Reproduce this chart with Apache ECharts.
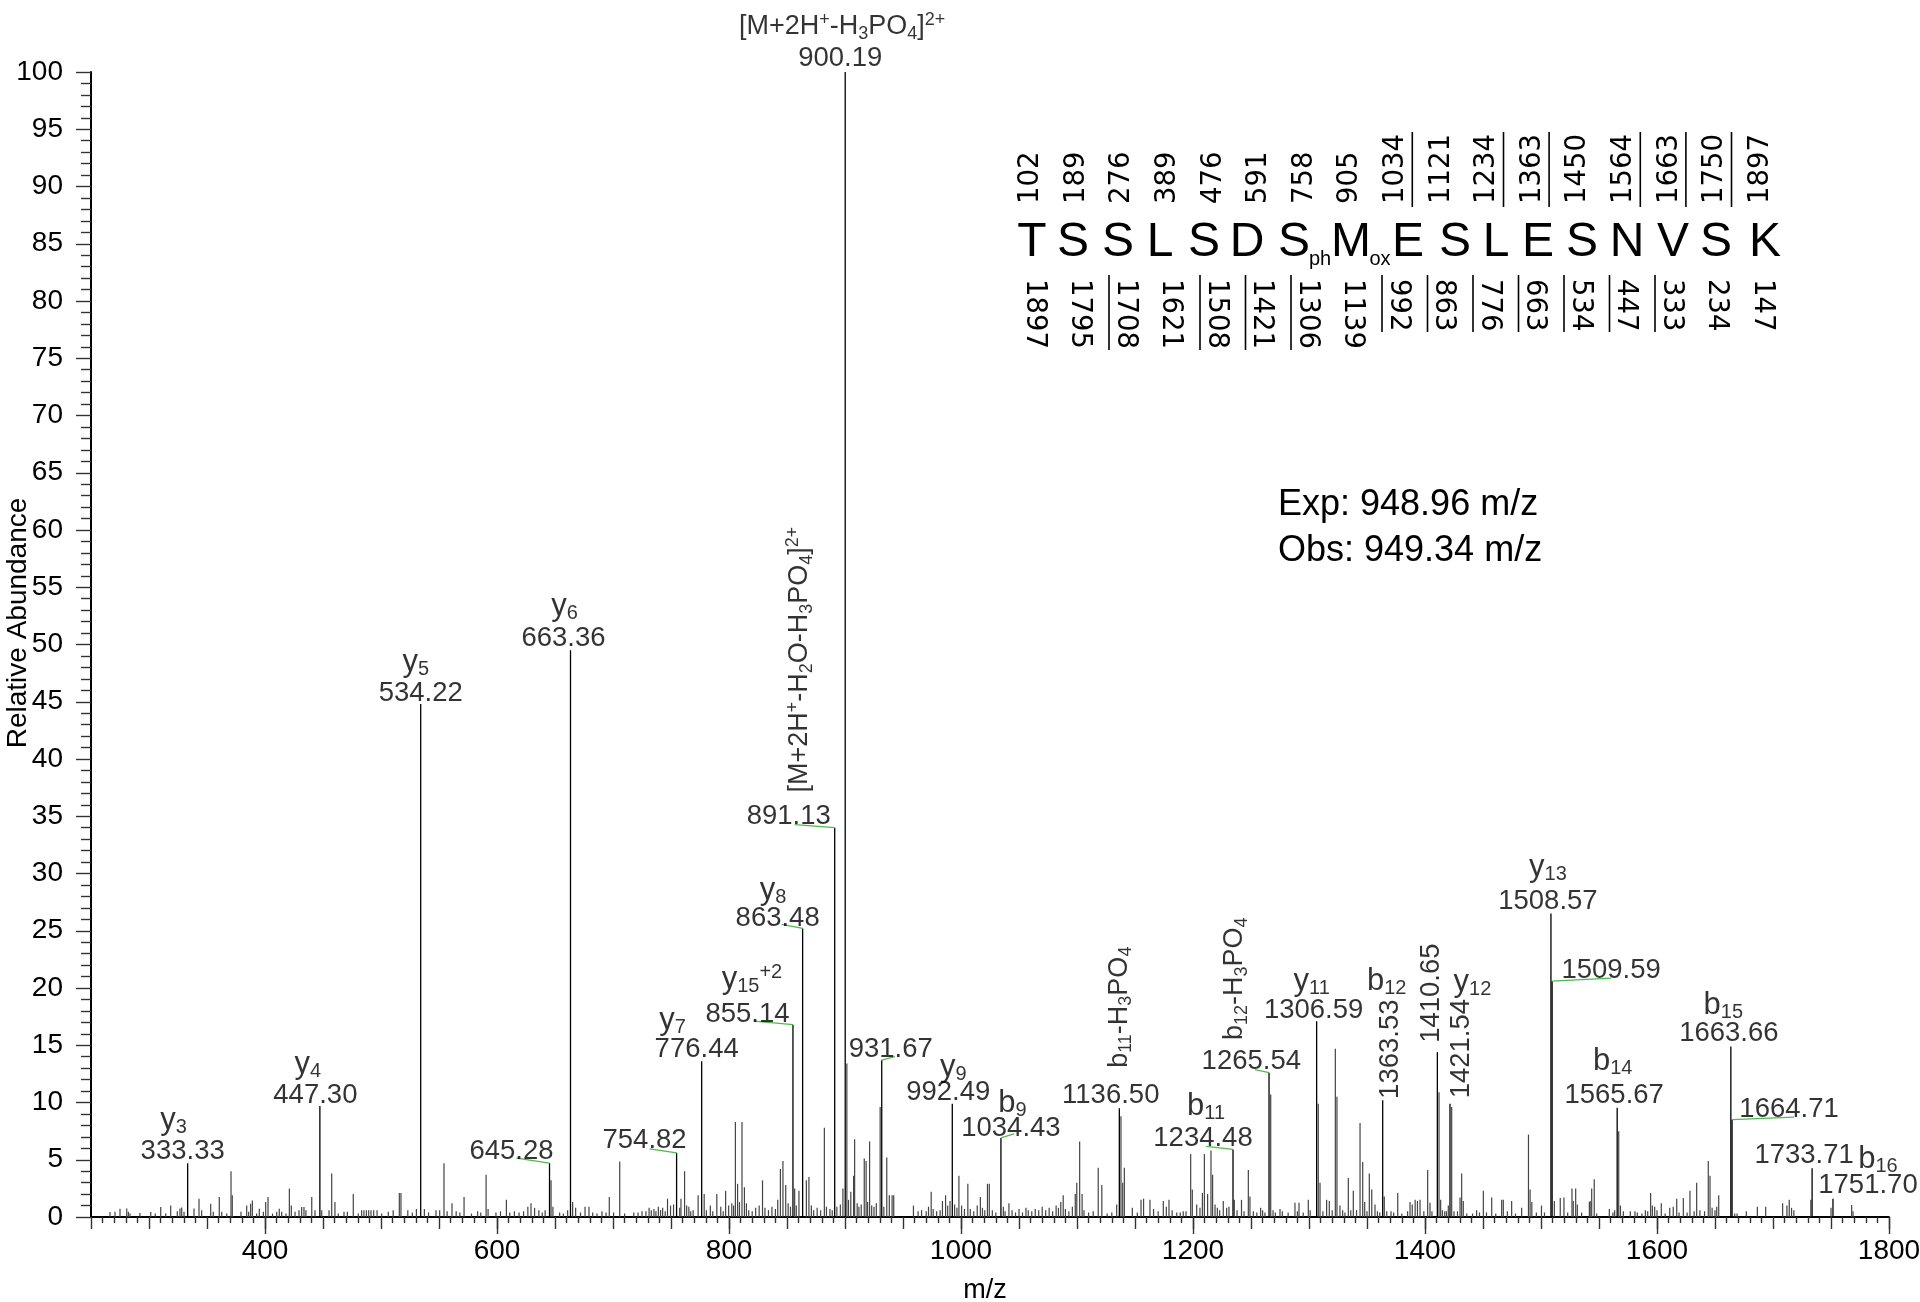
<!DOCTYPE html>
<html><head><meta charset="utf-8">
<script src="https://cdn.jsdelivr.net/npm/echarts@6/dist/echarts.min.js"></script>
<style>html,body{margin:0;padding:0;background:#fff}#c{width:1920px;height:1302px}</style>
</head><body><div id="c"></div>
<script>
// ---------------- DATA ----------------
const xTickValues = [400, 600, 800, 1000, 1200, 1400, 1600, 1800];

const labeledMz  = [333.33, 447.30, 534.22, 645.28, 663.36, 754.82, 776.44, 855.14, 863.48, 891.13, 900.19, 931.67, 992.49, 1034.43, 1136.50, 1234.48, 1265.54, 1306.59, 1363.53, 1410.65, 1421.54, 1508.57, 1509.59, 1565.67, 1663.66, 1664.71, 1733.71, 1751.70];
const labeledInt = [4.7, 9.7, 44.8, 4.7, 49.5, 5.6, 13.6, 16.8, 25.2, 34.0, 100, 13.7, 9.9, 6.9, 9.5, 5.9, 12.6, 17.1, 10.2, 14.4, 9.9, 26.5, 20.6, 9.55, 14.9, 8.5, 4.25, 1.6];
const ionNames = ['y_3','y_4','y_5','','y_6','','y_7','y_{15}^{+2}','y_8','[M+2H^+-H_2O-H_3PO_4]^{2+}','[M+2H^+-H_3PO_4]^{2+}','','y_9','b_9','b_{11}-H_3PO_4','b_{11}','b_{12}-H_3PO_4','y_{11}','b_{12}','','y_{12}','y_{13}','','b_{14}','b_{15}','','','b_{16}'];

const peaks250 = [[266.4,0.44],[270.7,0.45],[275.0,0.73],[280.8,0.75],[282.2,0.45],[283.6,0.3],[292.2,0.35],[301.5,0.44],[305.4,0.3],[310.1,0.87],[314.4,0.3],[318.7,1.0],[324.4,0.5],[326.7,0.75],[328.2,0.82],[330.2,0.45],[338.8,0.75],[343.1,1.6],[345.4,0.58],[353.2,1.15],[355.4,0.45],[360.6,1.75],[362.7,0.45],[367.0,0.3],[370.7,4.0],[371.8,1.9],[379.3,0.45],[384.2,1.0],[385.9,0.45],[387.6,1.15],[389.1,1.45],[392.8,0.3],[395.1,0.73],[398.6,0.45],[400.6,1.3],[402.6,1.75],[406.5,0.3],[410.1,0.45],[412.3,0.73],[414.4,0.45],[418.1,0.3],[421.0,2.5],[422.7,1.0],[425.9,0.45],[429.3,0.6],[431.6,0.87],[433.6,0.87],[435.3,0.6],[440.3,1.75],[443.1,0.6],[448.9,0.6],[455.2,0.6],[457.5,3.8],[460.3,1.3],[463.2,0.3],[468.1,0.45],[471.0,0.45],[476.1,2.0],[480.4,0.3],[483.3,0.6],[485.3,0.6],[487.4,0.6],[489.4,0.6],[491.4,0.6],[493.7,0.6],[496.6,0.6],[500.6,0.3],[506.3,0.45],[510.5,0.6],[515.8,2.1],[517.2,2.1]];
const peaks520 = [[523.1,0.6],[527.0,0.4],[530.5,0.7],[537.4,0.7],[541.0,0.4],[547.4,0.6],[550.6,0.6],[554.3,4.7],[557.0,0.5],[561.2,1.2],[564.8,0.5],[568.0,0.4],[571.6,1.75],[578.0,0.3],[583.3,0.5],[586.0,0.4],[590.6,3.7],[592.3,0.7],[599.1,0.4],[603.0,0.5],[608.1,1.5],[611.0,0.4],[615.0,0.5],[619.0,0.4],[622.9,0.5],[626.6,0.9],[629.3,1.2],[632.4,0.8],[636.1,0.6],[639.0,0.4],[641.5,0.6],[646.6,3.2],[648.2,0.9],[654.0,0.4],[657.2,0.3],[660.9,0.6],[665.2,1.3],[667.8,0.8],[672.0,0.4],[675.9,0.9],[679.3,0.9],[682.5,0.4],[686.2,0.3],[690.5,0.5],[694.0,0.4],[696.8,1.75],[700.5,0.4],[705.8,4.85],[710.0,0.3],[717.9,0.4],[721.6,0.4],[725.0,0.5],[728.4,0.5],[731.1,0.8],[733.0,0.6],[735.3,0.7],[737.0,0.5],[739.1,0.9],[741.0,0.6],[742.8,0.8],[745.0,0.5],[747.0,1.6],[749.6,1.0],[752.2,1.1],[757.5,0.8],[758.6,1.6],[761.7,4.0],[763.5,1.0],[765.4,0.9],[767.0,0.5],[769.1,0.6],[773.4,1.9],[778.6,2.0],[780.5,0.6],[783.9,1.0],[786.0,0.5],[789.5,2.0],[792.9,0.9],[795.0,0.5],[797.1,2.3],[799.7,1.0]];
const peaks800 = [[802.4,1.2],[804.0,1.0],[805.5,8.3],[807.4,2.9],[809.0,1.3],[811.2,8.3],[813.3,2.6],[815.0,1.2],[817.0,0.6],[820.0,0.5],[823.0,0.8],[826.0,1.0],[828.9,3.2],[831.0,0.8],[834.0,0.6],[837.0,0.9],[840.0,0.7],[842.0,1.5],[844.3,4.2],[846.5,4.9],[848.9,2.8],[851.0,1.2],[853.0,0.9],[856.6,2.5],[858.0,1.0],[860.3,2.3],[866.7,3.2],[868.9,3.5],[871.0,1.0],[873.0,0.6],[876.0,0.8],[879.0,0.6],[882.2,7.8],[884.0,0.9],[887.0,0.7],[889.0,0.6],[893.0,0.9],[896.0,1.1],[898.2,2.5],[901.6,13.4],[903.0,1.5],[905.0,2.2],[907.4,3.6],[908.3,6.8],[910.5,1.2],[912.0,0.9],[914.0,1.1],[916.6,5.1],[918.2,4.9],[919.5,1.3],[921.2,6.6],[923.0,1.0],[925.0,0.9],[927.0,1.2],[930.3,9.6],[933.5,0.9],[936.0,5.2],[938.2,1.9],[940.6,1.9],[942.0,1.9]];
const peaks960 = [[959.0,1.0],[963.0,0.5],[966.0,0.6],[970.0,0.5],[972.0,0.9],[974.3,2.2],[976.0,0.7],[979.0,0.5],[982.0,0.6],[984.0,1.4],[986.7,1.9],[988.5,1.0],[990.5,1.4],[994.5,1.1],[996.5,0.8],[998.2,3.6],[1000.5,1.0],[1003.0,0.7],[1005.9,2.9],[1008.0,0.7],[1011.0,0.5],[1014.0,1.0],[1016.7,1.75],[1018.5,0.8],[1020.5,0.6],[1022.8,2.9],[1024.4,2.9],[1027.0,0.6],[1030.0,0.4],[1036.5,0.9],[1038.0,0.5],[1041.3,1.2],[1044.0,0.6],[1047.0,0.4],[1050.0,0.7],[1053.0,0.4],[1056.0,0.8],[1058.0,0.6],[1061.0,0.5],[1064.0,0.7],[1067.0,0.6],[1070.0,0.9],[1073.0,0.6],[1076.0,0.8],[1079.0,0.5],[1082.0,1.0],[1084.0,0.8],[1086.0,1.3],[1088.1,1.9],[1090.0,0.7],[1093.0,0.5],[1096.0,0.9],[1098.5,2.0],[1099.8,3.0],[1102.3,6.6],[1104.4,2.0],[1106.0,0.6],[1110.0,0.4],[1114.0,0.5],[1118.3,4.3],[1121.4,2.8],[1126.0,0.3],[1130.0,0.4],[1134.2,1.1],[1137.9,8.8],[1139.4,3.0],[1140.8,4.3],[1147.7,0.8],[1152.0,0.4],[1155.2,1.5],[1157.4,1.6]];
const peaks1160 = [[1162.9,1.5],[1166.0,0.7],[1170.0,0.5],[1174.4,1.4],[1177.0,0.9],[1179.3,1.5],[1182.0,0.6],[1186.0,0.4],[1189.0,0.4],[1191.6,0.5],[1194.0,0.5],[1198.0,5.5],[1199.4,2.4],[1203.2,1.1],[1206.0,0.8],[1208.1,2.1],[1209.8,5.5],[1212.6,2.0],[1215.5,5.8],[1216.9,3.7],[1219.0,1.1],[1221.0,0.8],[1223.0,0.6],[1226.1,1.4],[1229.0,0.8],[1231.0,0.9],[1235.6,1.5],[1238.0,0.6],[1241.8,1.5],[1244.0,0.5],[1247.7,4.1],[1249.1,1.8],[1252.0,0.5],[1255.0,0.4],[1258.3,0.8],[1260.0,0.6],[1262.0,0.4],[1267.0,10.7],[1269.0,0.6],[1271.0,0.4],[1275.0,0.7],[1277.0,0.5],[1282.0,0.4],[1287.9,1.25],[1290.0,0.5],[1291.4,1.25],[1295.0,0.4],[1299.4,1.5],[1301.0,0.6],[1308.0,9.9],[1309.5,3.0],[1312.0,0.5],[1315.2,1.5],[1317.5,1.4],[1320.0,0.6],[1322.7,14.7],[1324.1,10.5],[1326.7,1.0],[1329.0,0.6],[1331.0,0.4],[1333.9,3.4],[1336.0,0.6],[1338.2,2.3],[1341.0,0.6],[1344.0,8.2],[1346.3,4.8],[1348.0,1.3],[1350.0,0.5],[1352.0,3.8],[1354.1,2.4],[1356.9,1.1],[1359.0,0.5],[1361.0,0.4],[1364.9,1.8],[1367.0,0.5],[1370.7,0.5],[1373.0,0.4],[1376.5,2.1],[1380.0,0.3],[1385.0,0.5],[1387.1,1.3],[1389.0,1.1],[1391.5,1.5],[1393.5,1.4],[1395.7,1.5],[1399.0,0.5],[1402.3,4.1],[1404.3,1.25],[1406.0,0.5],[1412.1,10.9],[1413.5,1.5],[1415.0,0.6],[1417.0,0.5],[1418.5,0.5],[1420.1,1.0],[1423.0,9.6],[1425.0,0.5],[1428.0,0.5],[1430.2,1.7],[1431.6,3.8],[1433.0,1.4],[1436.0,0.3],[1441.0,0.3],[1444.5,0.6],[1447.0,0.4],[1450.3,2.3],[1453.0,0.4],[1457.5,1.7],[1461.0,0.3],[1466.1,1.5],[1467.5,1.5],[1471.0,0.5],[1474.7,1.4],[1478.0,0.3],[1483.3,0.8],[1489.2,7.2],[1490.6,2.4],[1492.1,1.3],[1496.0,0.4],[1500.4,1.0],[1503.0,0.4],[1511.5,1.4],[1516.6,1.65],[1519.8,1.7],[1523.0,0.4],[1526.7,2.5],[1527.8,1.4],[1529.9,2.5],[1531.3,1.1],[1535.0,0.4],[1541.7,1.3],[1542.4,1.4],[1543.7,2.5],[1545.9,3.3],[1548.0,0.3]];
const peaks1550 = [[1558.9,0.7],[1562.0,0.4],[1563.5,0.6],[1567.0,7.5],[1568.5,1.0],[1571.0,0.5],[1577.0,0.5],[1581.0,0.5],[1583.0,0.4],[1587.0,0.3],[1590.0,0.6],[1592.0,0.5],[1594.5,2.1],[1596.0,1.0],[1598.0,0.9],[1600.0,0.6],[1603.7,1.2],[1607.0,0.3],[1611.0,0.8],[1614.0,0.9],[1617.0,1.6],[1619.0,0.4],[1622.7,1.65],[1626.0,0.4],[1628.4,2.3],[1632.0,0.5],[1634.2,3.0],[1637.0,0.6],[1641.0,0.5],[1644.2,4.9],[1645.7,3.6],[1647.5,0.8],[1650.0,0.6],[1651.5,0.9],[1653.2,1.9],[1667.0,0.3],[1669.0,0.3],[1677.0,0.5],[1686.5,0.9],[1693.7,0.9],[1708.3,1.2],[1712.0,1.0],[1714.0,1.5],[1716.0,0.8],[1718.0,0.6],[1732.6,1.5],[1750.0,0.8],[1767.8,1.05],[1769.0,0.5]];

const seqResidues = ['T','S','S','L','S','D','S','M','E','S','L','E','S','N','V','S','K'];
const seqMods = ['','','','','','','ph','ox','','','','','','','','',''];
const bIonMasses = [102,189,276,389,476,591,758,905,1034,1121,1234,1363,1450,1564,1663,1750,1897];
const bObserved  = [0,0,0,0,0,0,0,0,1,0,1,1,0,1,1,1,0];
const yIonMasses = [1897,1795,1708,1621,1508,1421,1306,1139,992,863,776,663,534,447,333,234,147];
const yObserved  = [0,0,1,0,1,1,1,0,1,1,1,1,1,1,1,0,0];
const expText = 'Exp: 948.96 m/z';
const obsText = 'Obs: 949.34 m/z';

// ---------------- LAYOUT / STYLE ----------------
const FONT = '"Liberation Sans", Arial, Helvetica, sans-serif';
const NUMFONT = '"DejaVu Sans", sans-serif';

// label placement: screen offsets from the peak top [dx, dy, rotateDeg]
const annot = [
  {ion:[-14,-43], num:[-5,-12]},
  {ion:[-12,-41], num:[-4.5,-11]},
  {ion:[-5,-42], num:[0,-11]},
  {num:[-38,-12], lead:[-33,-5]},
  {ion:[-6,-44], num:[-7,-12]},
  {num:[-32,-12], lead:[-27,-4]},
  {ion:[-29,-41], num:[-5,-12]},
  {ion:[-41,-45], num:[-45.5,-10], lead:[-39,-3.5]},
  {ion:[-29.6,-38], num:[-25,-10.5], lead:[-21,-4]},
  {ion:[-35,-168,90], num:[-46,-11], lead:[-40,-3]},
  {ion:[-3,-45], num:[-5,-14]},
  {num:[9,-11], lead:[13,-3.5]},
  {ion:[1,-36], num:[-4,-11]},
  {ion:[11.5,-35], num:[10,-10], lead:[13,-4]},
  {ion:[0,-101,90], num:[-8.6,-13]},
  {ion:[-27,-43], num:[-30,-11], lead:[-27,-3]},
  {ion:[-34,-94,90], num:[-17.7,-11], lead:[-14,-3]},
  {ion:[-5,-39.5], num:[-3,-11]},
  {ion:[4,-119], num:[8,-51,90]},
  {num:[-6,-59,90]},
  {ion:[22.5,-121], num:[11,-55,90]},
  {ion:[-3,-46], num:[-3,-12]},
  {num:[59,-11], lead:[59,-3]},
  {ion:[-4.5,-46], num:[-3,-12.7]},
  {ion:[-7.5,-41], num:[-2,-13]},
  {num:[57,-10], lead:[62,-2.5]},
  {num:[-8,-13]},
  {ion:[45,-39], num:[35,-13.7]}
];
// ECharts applies label offset in the rotated frame: convert screen offset
function rotOffset(a) {
  const r = (a[2] || 0) * Math.PI / 180;
  return [a[0] * Math.cos(r) - a[1] * Math.sin(r), a[0] * Math.sin(r) + a[1] * Math.cos(r)];
}

function toRich(s, big) {
  const N = big ? 'N' : 'n', S = big ? 'S' : 'sub', P = big ? 'P' : 'sup';
  let out = '', buf = '', i = 0;
  const flush = () => { if (buf) { out += '{' + N + '|' + buf + '}'; buf = ''; } };
  while (i < s.length) {
    const c = s[i];
    if (c === '_' || c === '^') {
      flush();
      let t;
      if (s[i + 1] === '{') { const j = s.indexOf('}', i + 2); t = s.slice(i + 2, j); i = j + 1; }
      else { t = s[i + 1]; i += 2; }
      out += '{' + (c === '_' ? S : P) + '|' + t + '}';
    } else { buf += c; i++; }
  }
  flush();
  return out;
}

const allMinor = [].concat(peaks250, peaks520, peaks800, peaks960, peaks1160, peaks1550);
const majorData = labeledMz.map((m, i) => [m, labeledInt[i]]);

function peakSeries(data, color, width, z) {
  return {
    type: 'custom', coordinateSystem: 'cartesian2d', data: data, silent: true, clip: false, z: z,
    encode: {x: 0, y: 1},
    renderItem: function (params, api) {
      const b = api.coord([api.value(0), 0]);
      const t = api.coord([api.value(0), api.value(1)]);
      return {type: 'line', shape: {x1: b[0], y1: b[1], x2: t[0], y2: t[1]}, style: {stroke: color, lineWidth: width}};
    }
  };
}

const numItems = labeledMz.map((m, i) => ({
  value: [m, labeledInt[i]],
  label: {offset: rotOffset(annot[i].num), rotate: annot[i].num[2] || 0}
}));
const ionItems = [], ionRich = [];
labeledMz.forEach((m, i) => {
  if (!ionNames[i]) return;
  const a = annot[i].ion;
  ionItems.push({value: [m, labeledInt[i]], label: {offset: rotOffset(a), rotate: a[2] || 0}});
  const simple = /^[yb]_/.test(ionNames[i]) && ionNames[i].indexOf('H_3') < 0;
  ionRich.push(toRich(ionNames[i], simple));
});
const leadData = [];
labeledMz.forEach((m, i) => { if (annot[i].lead) leadData.push([m, labeledInt[i], i]); });

const richStyles = {
  n:   {fontSize: 27, lineHeight: 32, fontFamily: FONT, color: '#000', verticalAlign: 'middle'},
  sub: {fontSize: 18, lineHeight: 14, fontFamily: FONT, color: '#000', verticalAlign: 'bottom'},
  sup: {fontSize: 18, lineHeight: 14, fontFamily: FONT, color: '#000', verticalAlign: 'top'},
  N:   {fontSize: 31, lineHeight: 34, fontFamily: FONT, color: '#000', verticalAlign: 'middle'},
  S:   {fontSize: 20, lineHeight: 14, fontFamily: FONT, color: '#000', verticalAlign: 'bottom'},
  P:   {fontSize: 20, lineHeight: 14, fontFamily: FONT, color: '#000', verticalAlign: 'top'}
};

// --------- sequence graphic ---------
const letterX = [1032,1073,1118,1160,1204,1247,1294,1351,1408,1455,1496,1538,1582,1627,1673,1716,1765];
const modX = {6: 1320, 7: 1380};
const gfx = [];
function txt(x, y, text, font, align, vAlign, rot) {
  gfx.push({type: 'text', x: x, y: y, rotation: rot || 0, silent: true,
    style: {text: text, font: font, fill: '#000', align: align, verticalAlign: vAlign, textAlign: align, textVerticalAlign: vAlign}});
}
function ln(x1, y1, x2, y2) {
  gfx.push({type: 'line', silent: true, shape: {x1: x1, y1: y1, x2: x2, y2: y2}, style: {stroke: '#000', lineWidth: 1.6}});
}
seqResidues.forEach((r, i) => {
  txt(letterX[i], 243, r, '48px ' + FONT, 'center', 'middle');
  if (seqMods[i]) txt(modX[i], 259, seqMods[i], '20px ' + FONT, 'center', 'middle');
});
bIonMasses.forEach((v, i) => {
  const x = 1031 + 45.6 * i;
  txt(x, 204, String(v), '27.5px ' + NUMFONT, 'left', 'middle', Math.PI / 2);
  if (bObserved[i]) ln(x + 16.5, 132, x + 16.5, 207);
});
yIonMasses.forEach((v, i) => {
  const x = 1034 + 45.5 * i;
  txt(x, 279, String(v), '27.5px ' + NUMFONT, 'left', 'middle', -Math.PI / 2);
  if (yObserved[i]) ln(x - 16, 275, x - 16, String(v).length > 3 ? 350 : 332);
});
txt(1278, 505, expText, '36px ' + FONT, 'left', 'middle');
txt(1278, 551, obsText, '36px ' + FONT, 'left', 'middle');
txt(18, 623, 'Relative Abundance', '28px ' + FONT, 'center', 'middle', Math.PI / 2);
txt(985, 1291, 'm/z', '27px ' + FONT, 'center', 'middle');

const tickLine = {color: '#333', width: 1.4};
const option = {
  animation: false,
  backgroundColor: '#ffffff',
  grid: {left: 91, right: 31, top: 72, bottom: 85, containLabel: false, outerBoundsMode: 'none'},
  xAxis: [
    {type: 'value', min: 250, max: 1800, interval: 50, position: 'bottom', offset: 0,
     axisLine: {show: true, onZero: false, lineStyle: {color: '#000', width: 2}},
     axisTick: {show: true, inside: false, length: 12, lineStyle: tickLine},
     minorTick: {show: true, splitNumber: 5, length: 6, lineStyle: tickLine},
     axisLabel: {show: false}, splitLine: {show: false}, minorSplitLine: {show: false}},
    {type: 'value', min: 250, max: 1800, position: 'bottom', offset: 0,
     axisLine: {show: false},
     axisTick: {show: true, inside: false, length: 17, customValues: xTickValues, lineStyle: tickLine},
     axisLabel: {show: true, customValues: xTickValues, fontSize: 28, fontFamily: FONT, color: '#000', margin: 20,
                 formatter: v => String(v)},
     splitLine: {show: false}}
  ],
  yAxis: {type: 'value', min: 0, max: 100, interval: 5,
    axisLine: {show: true, onZero: false, lineStyle: {color: '#000', width: 2}},
    axisTick: {show: true, inside: false, length: 15, lineStyle: tickLine},
    minorTick: {show: true, splitNumber: 5, length: 10, lineStyle: tickLine},
    axisLabel: {fontSize: 28, fontFamily: FONT, color: '#000', margin: 28, padding: [7, 0, 0, 0],
                formatter: v => String(v)},
    splitLine: {show: false}, minorSplitLine: {show: false}},
  series: [
    peakSeries(allMinor, '#444', 1.2, 2),
    peakSeries(majorData, '#000', 1.3, 3),
    {type: 'custom', coordinateSystem: 'cartesian2d', data: leadData, silent: true, clip: false, z: 4,
     encode: {x: 0, y: 1},
     renderItem: function (params, api) {
       const p = api.coord([api.value(0), api.value(1)]);
       const L = annot[api.value(2)].lead;
       return {type: 'line', shape: {x1: p[0], y1: p[1], x2: p[0] + L[0], y2: p[1] + L[1]}, style: {stroke: '#4cbb4c', lineWidth: 1.3}};
     }},
    {type: 'scatter', data: numItems, symbolSize: 1, silent: true, z: 5,
     itemStyle: {color: 'rgba(0,0,0,0)'},
     label: {show: true, position: 'inside', align: 'center', verticalAlign: 'middle', fontSize: 27.5, fontFamily: FONT, color: '#000',
             formatter: p => labeledMz[p.dataIndex].toFixed(2)}},
    {type: 'scatter', data: ionItems, symbolSize: 1, silent: true, z: 5,
     itemStyle: {color: 'rgba(0,0,0,0)'},
     label: {show: true, position: 'inside', align: 'center', verticalAlign: 'middle', color: '#000',
             formatter: p => ionRich[p.dataIndex], rich: richStyles}}
  ],
  graphic: {elements: gfx}
};
const chart = echarts.init(document.getElementById('c'), null, {renderer: 'canvas'});
chart.setOption(option);
</script>
</body></html>
